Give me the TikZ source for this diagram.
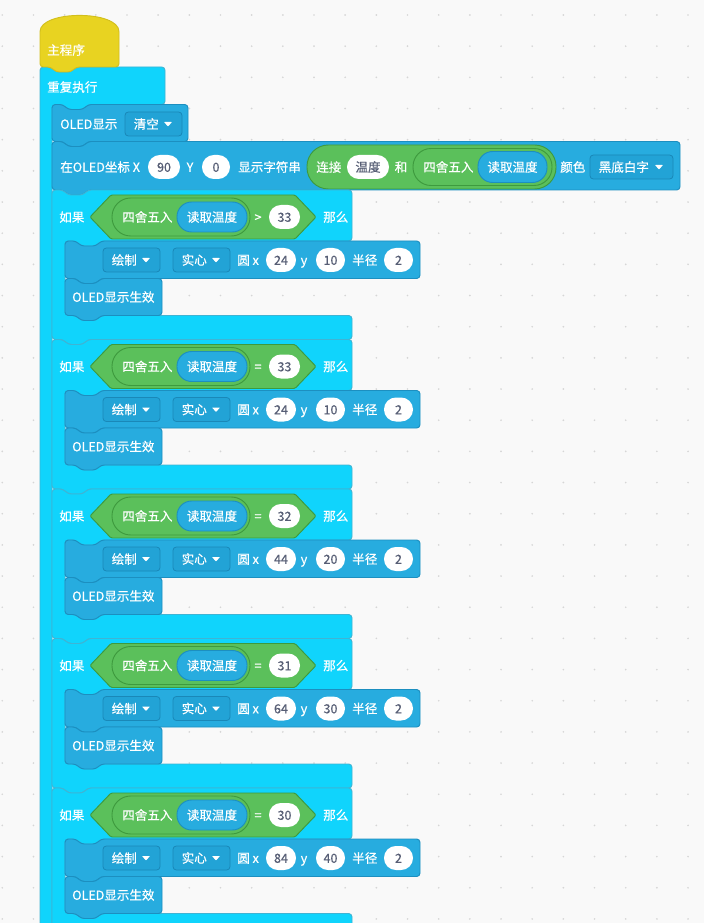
\documentclass[tikz,border=0pt]{standalone}
\usepackage{fontspec}
\newfontfamily\cjk{Noto Sans CJK SC}[FakeBold=0.5]
\definecolor{bgc}{HTML}{F9F9F9}
\definecolor{dotc}{HTML}{D6D6D6}
\definecolor{hatc}{HTML}{E8D321}
\definecolor{hatb}{HTML}{D2BF1C}
\definecolor{cyanc}{HTML}{10D4FC}
\definecolor{cyanb}{HTML}{3FB4D4}
\definecolor{bluec}{HTML}{27ACDF}
\definecolor{blueb}{HTML}{1C8FC0}
\definecolor{ddc}{HTML}{22A3D6}
\definecolor{ddb}{HTML}{1A88B8}
\definecolor{greenc}{HTML}{5BC05B}
\definecolor{greenb}{HTML}{3E9A3E}
\definecolor{valtext}{HTML}{575E75}
\tikzset{
  txt/.style={font=\cjk\fontsize{9.4}{11}\selectfont, text=white, inner sep=0pt, anchor=west, text height=7.4pt, text depth=0.2pt},
  ctxt/.style={txt, anchor=center},
  vtxt/.style={ctxt, text=valtext},
  hatblk/.style={fill=hatc, draw=hatb, line width=0.7pt, rounded corners=2.5pt},
  cyanblk/.style={fill=cyanc, draw=cyanb, line width=0.7pt, rounded corners=2.5pt},
  blueblk/.style={fill=bluec, draw=blueb, line width=0.7pt, rounded corners=2.5pt},
  ddstyle/.style={fill=ddc, draw=ddb, line width=0.6pt, rounded corners=2.5pt},
  greenblk/.style={fill=greenc, draw=greenb, line width=0.7pt, rounded corners=1pt},
  bluerep/.style={fill=bluec, draw=blueb, line width=0.7pt},
  valshape/.style={fill=white, rounded corners=8.9pt}
}
% stack block: style, x1, x2, y1, y2
\newcommand\stackblk[5]{%
  \draw[#1] (#2,#4) -- (#2+11,#4) -- (#2+16,#4+5) -- (#2+31,#4+5) -- (#2+36,#4) -- (#3,#4) -- (#3,#5) -- (#2+36,#5) -- (#2+31,#5+5) -- (#2+16,#5+5) -- (#2+11,#5) -- (#2,#5) -- cycle;}
% value oval: name, x1, x2, cy, text
\newcommand\valbox[5]{%
  \fill[valshape] (#2,#4-12) rectangle (#3,#4+12);
  \node[vtxt] (#1) at ({(#2+#3)/2},#4) {#5};}
% dropdown: name, x1, x2, cy, text
\newcommand\ddbox[5]{%
  \draw[ddstyle] (#2,#4-12) rectangle (#3,#4+12);
  \node[txt] (#1) at (#2+8.5,#4) {#5};
  \fill[white, rounded corners=0.4pt] (#3-18,#4-2) -- (#3-10,#4-2) -- (#3-14,#4+2.5) -- cycle;}
% if block: T, op, value, xval, yval, suffix
\newcommand\ifblk[6]{%
  \draw[cyanblk] (52,#1) -- (63,#1) -- (68,#1+5) -- (83,#1+5) -- (88,#1) -- (352,#1) -- (352,#1+51) -- (101,#1+51) -- (96,#1+56) -- (81,#1+56) -- (76,#1+51) -- (65,#1+51) -- (65,#1+125.5) -- (76,#1+125.5) -- (81,#1+130.5) -- (96,#1+130.5) -- (101,#1+125.5) -- (352,#1+125.5) -- (352,#1+149.5) -- (88,#1+149.5) -- (83,#1+154.5) -- (68,#1+154.5) -- (63,#1+149.5) -- (52,#1+149.5) -- cycle;
  \node[txt] (ruguo#6) at (59,#1+27) {如果};
  \draw[greenblk] (90,#1+27) -- (111,#1+5) -- (295,#1+5) -- (316,#1+27) -- (295,#1+49) -- (111,#1+49) -- cycle;
  \draw[greenblk, rounded corners=14pt] (112,#1+8) rectangle (250,#1+46);
  \node[txt] (round#6) at (122,#1+27) {四舍五入};
  \draw[bluerep, rounded corners=11pt] (177,#1+12) rectangle (247,#1+42);
  \node[ctxt] (temp#6) at (212,#1+27) {读取温度};
  \node[ctxt] (op#6) at (258,#1+27) {#2};
  \valbox{cmp#6}{269}{300}{#1+27}{#3}
  \node[txt] (then#6) at (323,#1+27) {那么};
  \stackblk{blueblk}{65}{420}{#1+51}{#1+88.5}
  \ddbox{draw#6}{103}{160}{#1+70}{绘制}
  \ddbox{fill#6}{173}{230}{#1+70}{实心}
  \node[txt] (circ#6) at (237,#1+70) {圆 x};
  \valbox{cx#6}{266}{296}{#1+70}{#4}
  \node[ctxt] (ylab#6) at (304,#1+70) {y};
  \valbox{cy#6}{316}{345}{#1+70}{#5}
  \node[txt] (rad#6) at (352,#1+70) {半径};
  \valbox{r#6}{384}{413}{#1+70}{2}
  \stackblk{blueblk}{65}{162}{#1+88.5}{#1+125.5}
  \node[txt] (show#6) at (72,#1+107) {OLED显示生效};
}
\begin{document}
\begin{tikzpicture}[x=0.75pt,y=-0.75pt]
\useasboundingbox (0,0) rectangle (704,923);
\clip (0,0) rectangle (704,923);
\fill[bgc] (0,0) rectangle (704,923);
\foreach \i in {0,...,22} \foreach \j in {0,...,29}
  \fill[dotc] (2.3+31.17*\i,15+31.17*\j) circle (0.7pt);
% forever block
\draw[cyanblk] (40,67) -- (51,67) -- (56,72) -- (71,72) -- (76,67) -- (165,67) -- (165,104.5) -- (88,104.5) -- (83,109.5) -- (68,109.5) -- (63,104.5) -- (52,104.5) -- (52,940) -- (40,940) -- cycle;
\node[txt] (forever) at (47,87) {重复执行};
% hat block
\draw[hatblk] (40,67) -- (40,35) .. controls (40,10) and (119,10) .. (119,35) -- (119,67) -- (76,67) -- (71,72) -- (56,72) -- (51,67) -- cycle;
\node[txt] (main) at (47,50) {主程序};
% OLED clear
\stackblk{blueblk}{52}{188}{104.5}{141.5}
\node[txt] (oled) at (60,124) {OLED显示};
\ddbox{clear}{125}{182}{124}{清空}
% OLED string
\stackblk{blueblk}{52}{680}{141.5}{190}
\node[txt] (at) at (60,167) {在OLED坐标 X};
\valbox{xv}{148}{180}{167}{90}
\node[ctxt] (ylab) at (190,167) {Y};
\valbox{yv}{202}{230}{167}{0}
\node[txt] (showstr) at (238,167) {显示字符串};
\draw[greenblk, rounded corners=16pt] (307,145) rectangle (556,189);
\node[txt] (join) at (316,167) {连接};
\valbox{wendu}{347}{389}{167}{温度}
\node[ctxt] (and) at (401,167) {和};
\draw[greenblk, rounded corners=13.5pt] (413,148.5) rectangle (552,185.5);
\node[txt] (round0) at (423,167) {四舍五入};
\draw[bluerep, rounded corners=11pt] (478,151.5) rectangle (547,182.5);
\node[ctxt] (temp0) at (512.5,167) {读取温度};
\node[txt] (color) at (560,167) {颜色};
\ddbox{bw}{590}{673}{167}{黑底白字}
% if blocks
\ifblk{190}{>}{33}{24}{10}{a}
\ifblk{339.5}{=}{33}{24}{10}{b}
\ifblk{489}{=}{32}{44}{20}{c}
\ifblk{638.5}{=}{31}{64}{30}{d}
\ifblk{788}{=}{30}{84}{40}{e}
\end{tikzpicture}
\end{document}
